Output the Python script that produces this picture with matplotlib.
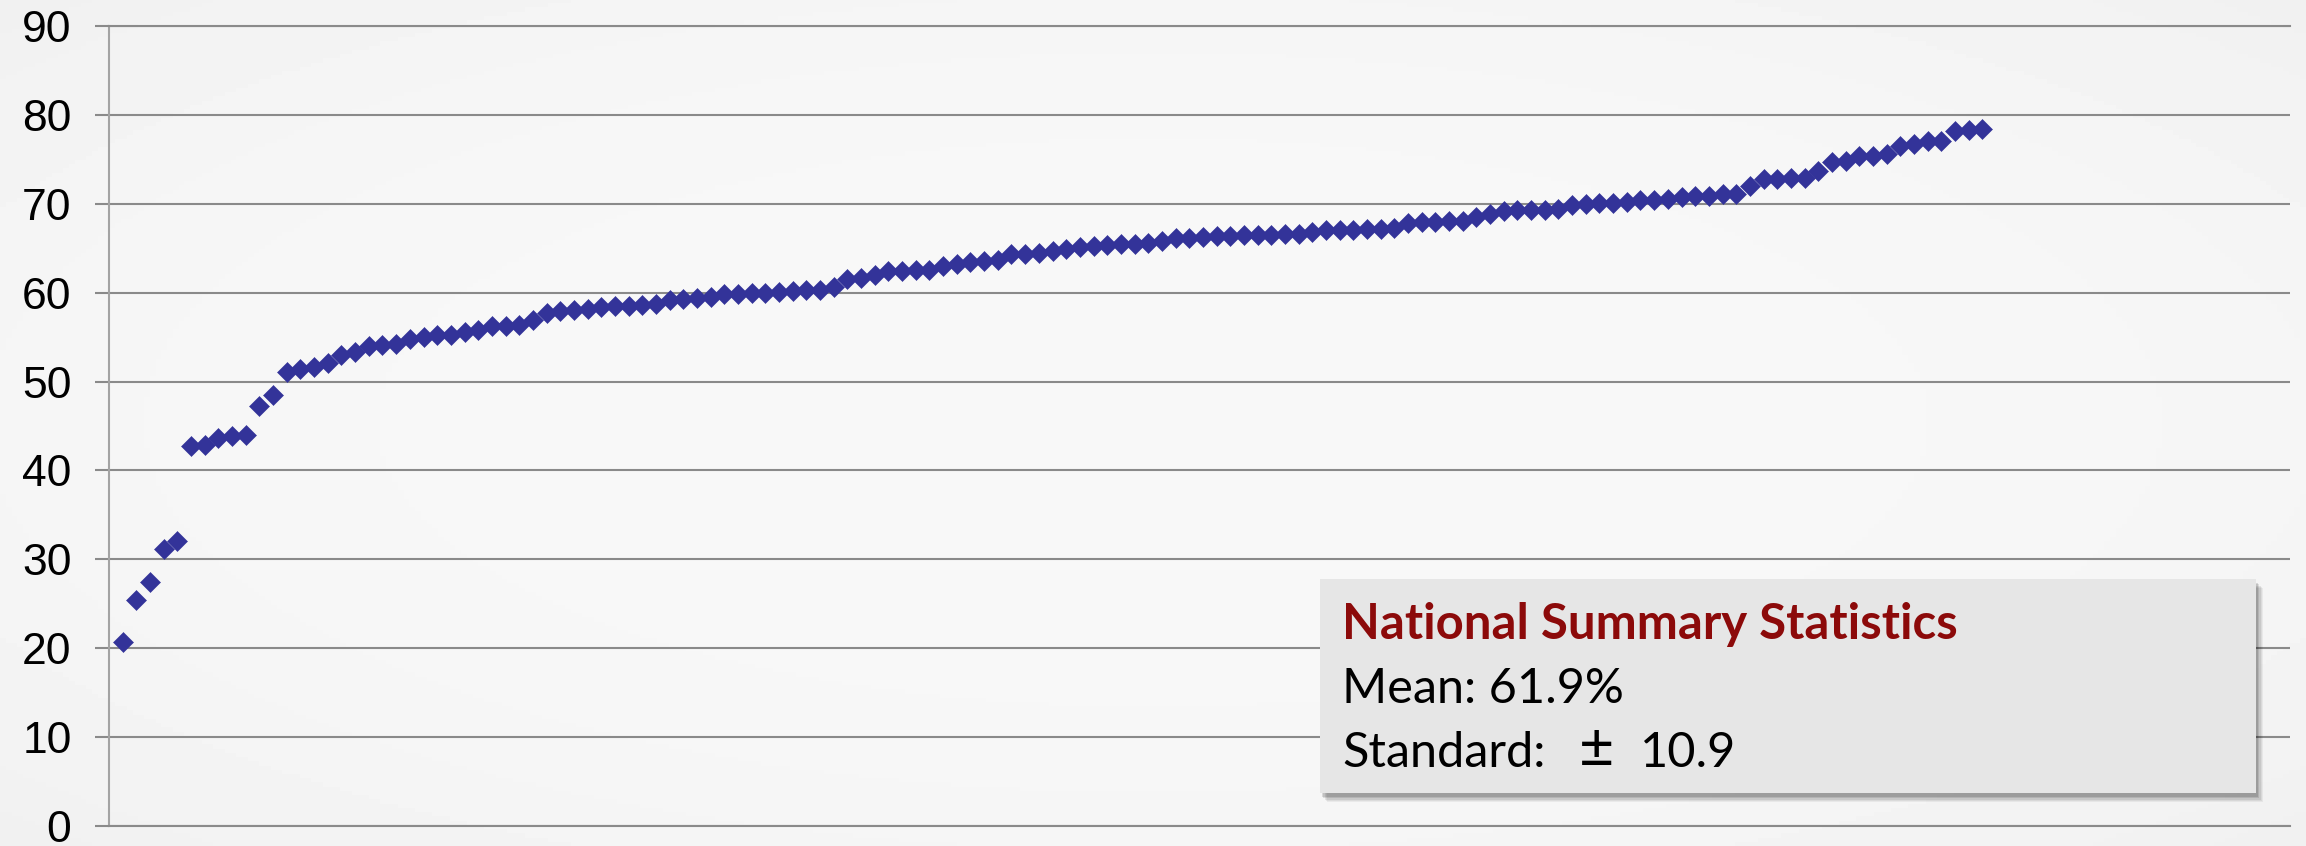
import numpy as np
import matplotlib
matplotlib.use("Agg")
import matplotlib.pyplot as plt
from matplotlib.patches import Rectangle

# Sorted provincial/site percentages (one diamond per unit)
values = [
    20.7, 25.45, 27.4, 31.2, 32.1, 42.75, 42.85, 43.6, 43.9, 44.0, 47.3, 48.5,
    51.1, 51.4, 51.6, 52.1, 53.0, 53.3, 54.0, 54.1, 54.2,
    54.8, 55.05, 55.2, 55.25, 55.55, 55.85, 56.2, 56.3, 56.35, 56.9,
    57.75, 57.9, 58.1, 58.2, 58.4, 58.45, 58.5, 58.6, 58.7, 59.15,
    59.25, 59.35, 59.5,
    59.8, 59.9, 59.95, 60.0, 60.1, 60.2, 60.3, 60.35, 60.6, 61.5, 61.7,
    62.0, 62.4, 62.45, 62.5, 62.55, 63.0, 63.2, 63.4, 63.6, 63.7, 64.3, 64.4,
    64.5, 64.65, 64.9, 65.1, 65.2, 65.35, 65.45, 65.5, 65.6, 65.8, 66.1,
    66.2, 66.3, 66.35, 66.4, 66.45, 66.5, 66.5, 66.55, 66.6, 66.8, 67.0, 67.05,
    67.1, 67.15, 67.2, 67.3, 67.85, 67.9, 67.95, 68.05, 68.1, 68.5, 68.9,
    69.15, 69.25, 69.3, 69.35, 69.45, 69.9, 70.0, 70.05, 70.1, 70.15, 70.4, 70.45,
    70.5, 70.75, 70.85, 70.9, 71.05, 71.05, 72.0, 72.75, 72.75, 72.85, 72.95,
    73.7, 74.75, 74.8, 75.35, 75.4, 75.55, 76.5, 76.75, 77.05, 77.1, 78.2, 78.25, 78.4,
]
positions = list(range(1, len(values) + 1))
y_ticks = [0, 10, 20, 30, 40, 50, 60, 70, 80, 90]

box_title = "National Summary Statistics"
mean_text = "Mean: 61.9%"
std_parts = ["Standard:", "\u00b1", "10.9"]

W, H, DPI = 2306, 846, 100
fig = plt.figure(figsize=(W / DPI, H / DPI), dpi=DPI)


def fx(px):
    return px / W


def fy(py):
    return 1 - py / H


# soft grey backdrop, a touch darker toward the edges
bg = fig.add_axes([0, 0, 1, 1], zorder=-10)
yy, xx = np.mgrid[0:1:200j, 0:1:400j]
r = np.sqrt(((xx - 0.5) / 0.5) ** 2 + ((yy - 0.5) / 0.5) ** 2) / np.sqrt(2)
shade = 0.972 - 0.03 * np.clip(r, 0, 1) ** 3
bg.imshow(shade, cmap="gray", vmin=0, vmax=1, extent=[0, 1, 0, 1], aspect="auto")
bg.axis("off")

left_px, right_px, top_px, bottom_px = 109, 2290, 26, 826
ax = fig.add_axes([fx(left_px), fy(bottom_px), fx(right_px) - fx(left_px),
                   (bottom_px - top_px) / H])
ax.set_facecolor("none")

grid_c = "#8a8a8a"
ax.set_xlim(0, 159.5)
ax.set_ylim(0, 90)
ax.set_yticks(y_ticks)
ax.set_xticks([])
ax.yaxis.grid(True, color=grid_c, lw=1.5)
ax.set_axisbelow(True)
for s in ["top", "bottom"]:
    ax.spines[s].set_color(grid_c)
    ax.spines[s].set_linewidth(1.5)
ax.spines["right"].set_visible(False)
ax.spines["left"].set_color("#a3a3a3")
ax.spines["left"].set_linewidth(1.5)
ax.tick_params(axis="y", length=10, width=1.5, color=grid_c, pad=17,
               labelsize=32)
for lab in ax.get_yticklabels():
    lab.set_fontfamily("Liberation Sans")

ax.plot(positions, values, "D", ms=10.2, color="#333399", mec="#333399",
        mew=0.4, clip_on=False, zorder=3)

# summary box with drop shadow
bx0, bx1, by0, by1 = 1320, 2256, 579, 793
for i, a in enumerate([0.05, 0.06, 0.08, 0.10, 0.12]):
    off = 9 - i * 1.2
    fig.patches.append(Rectangle((fx(bx0 + off - 2), fy(by1 + off)),
                                 fx(bx1 - bx0), (by1 - by0) / H,
                                 transform=fig.transFigure, facecolor="#000000",
                                 edgecolor="none", alpha=a, zorder=5))
fig.patches.append(Rectangle((fx(bx0), fy(by1)), fx(bx1 - bx0), (by1 - by0) / H,
                             transform=fig.transFigure, facecolor="#e6e6e6",
                             edgecolor="none", zorder=6))

t_title = fig.text(fx(1342), fy(639), box_title, fontsize=34, fontweight="bold",
                   color="#8c0a0a", family="Lato", va="baseline", ha="left",
                   zorder=7)
t_mean = fig.text(fx(1342), fy(703), mean_text, fontsize=32, color="#000000",
                  family="Lato", va="baseline", ha="left", zorder=7)
t_std = fig.text(fx(1342), fy(767), std_parts[0], fontsize=32, color="#000000",
                 family="Lato", va="baseline", ha="left", zorder=7)
t_pm = fig.text(fx(1579), fy(767), std_parts[1], fontsize=32, color="#000000",
                family="Lato", va="baseline", ha="left", zorder=7)
t_val = fig.text(fx(1640), fy(767), std_parts[2], fontsize=32, color="#000000",
                 family="Lato", va="baseline", ha="left", zorder=7)

fig.canvas.draw()
rend = fig.canvas.get_renderer()
w = t_title.get_window_extent(rend).width
t_title.set_fontsize(t_title.get_fontsize() * 616 / w)
w = t_mean.get_window_extent(rend).width
size = t_mean.get_fontsize() * 282 / w
for t in (t_mean, t_std, t_val):
    t.set_fontsize(size)
t_pm.set_fontsize(size * 1.25)

fig.savefig("out.png", dpi=DPI)
